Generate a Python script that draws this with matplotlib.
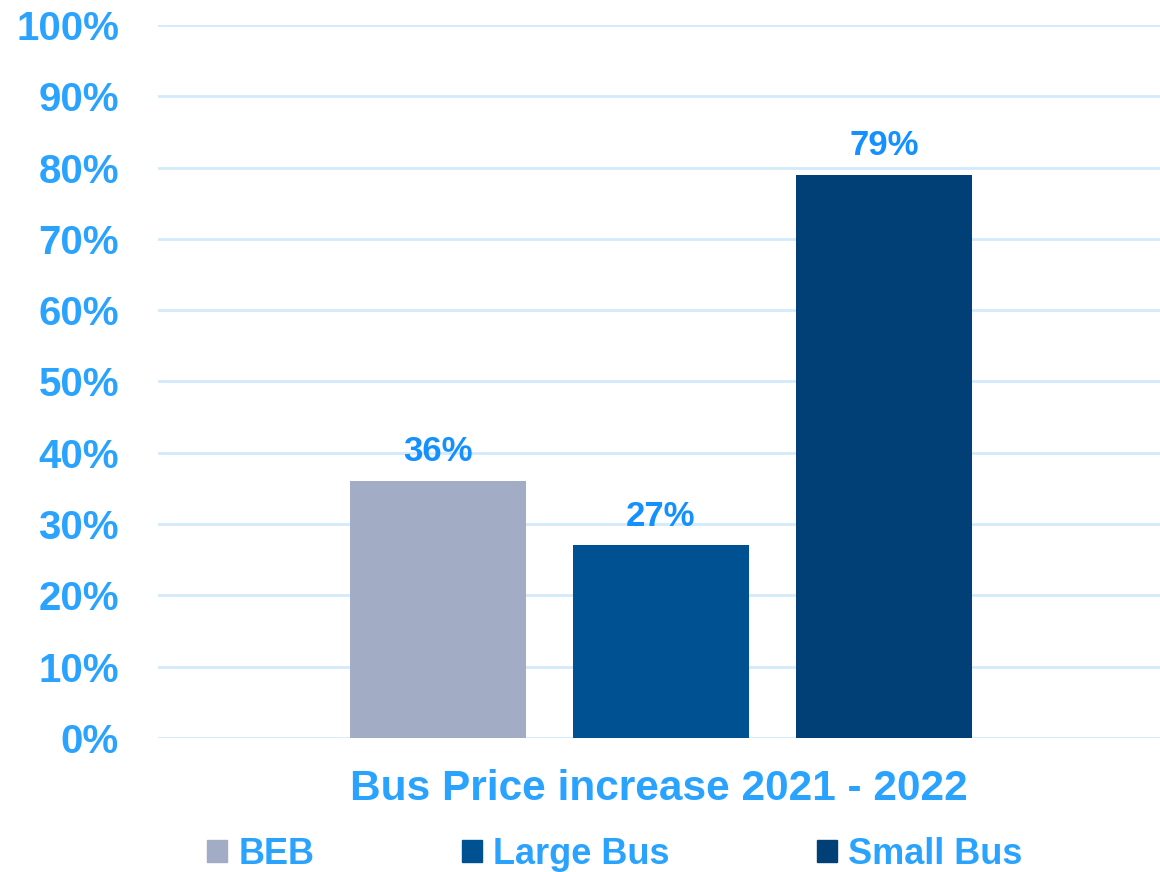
import matplotlib.pyplot as plt
from matplotlib.patches import Patch
from matplotlib.ticker import PercentFormatter

categories = ['BEB', 'Large Bus', 'Small Bus']
values = [0.36, 0.27, 0.79]
labels = ['36%', '27%', '79%']
colors = ['#a2acc4', '#005191', '#004077']
xlabel = 'Bus Price increase 2021 - 2022'

plt.rcParams['font.family'] = ['Liberation Sans', 'DejaVu Sans']
plt.rcParams['font.weight'] = 'bold'

tick_blue = '#2aa3ff'
label_blue = '#1490ff'
grid_blue = '#d3eafb'

fig = plt.figure(figsize=(11.6, 8.72), dpi=100)
ax = fig.add_axes([158 / 1160, 1 - 738 / 872, 1 - 158 / 1160, (738 - 25) / 872])

x = range(len(categories))
bars = ax.bar(x, values, width=176 / 223, color=colors, zorder=2)
for bar, lab in zip(bars, labels):
    ax.text(bar.get_x() + bar.get_width() / 2, bar.get_height() + 0.018, lab,
            ha='center', va='bottom', color=label_blue, fontsize=25, fontweight='bold')

mid = 1 - 2 / 223
ax.set_xlim(mid - 2.247, mid + 2.247)
ax.set_ylim(0, 1)
ax.set_yticks([i / 10 for i in range(11)])
ax.yaxis.set_major_formatter(PercentFormatter(1.0, decimals=0))
ax.tick_params(axis='y', length=0, pad=28, labelsize=29, labelcolor=tick_blue)
ax.tick_params(axis='x', length=0, labelbottom=False)
ax.grid(axis='y', color=grid_blue, linewidth=2, zorder=0)
for s in ax.spines.values():
    s.set_visible(False)

ax.set_xlabel(xlabel, fontsize=30.5, color=tick_blue, fontweight='bold', labelpad=22)

handles = [Patch(color=c) for c in colors]
fig.legend(handles, categories, loc='center', bbox_to_anchor=(615 / 1160, 1 - 854 / 872),
           ncol=3, frameon=False, fontsize=26, labelcolor=tick_blue,
           handlelength=0.55, handleheight=0.55, handletextpad=0.3, columnspacing=4.1)

fig.savefig('out.png', dpi=100)
